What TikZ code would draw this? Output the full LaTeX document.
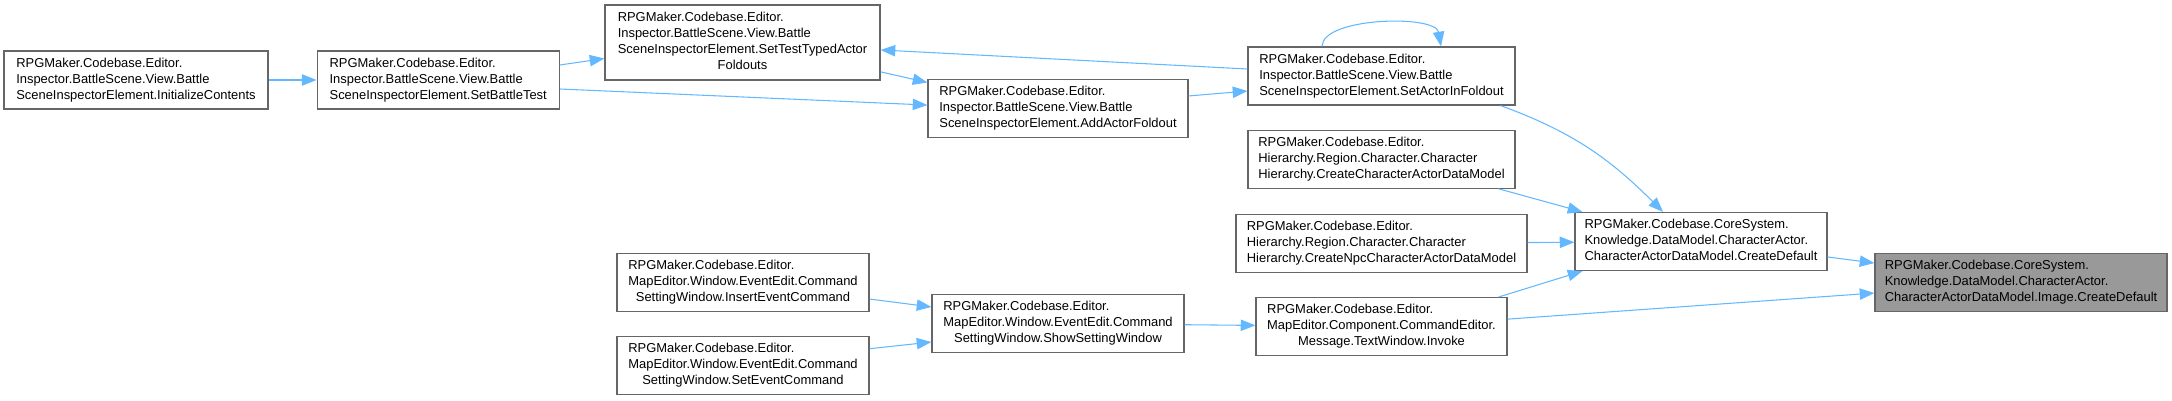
\documentclass[tikz,border=0pt]{standalone}
\usepackage{fontspec}
\setmainfont{Liberation Sans}
\usepackage{tikz}
\usetikzlibrary{positioning,arrows.meta}

\definecolor{edgeblue}{HTML}{63B8FF}
\definecolor{boxgray}{HTML}{666666}
\definecolor{markgray}{HTML}{999999}

\newcommand{\fnlines}[1]{\begin{tabular}{@{}l@{}}#1\end{tabular}}
\newcommand{\lastc}[1]{\multicolumn{1}{@{}c@{}}{#1}}

\begin{document}
\begin{tikzpicture}[x=0.75pt, y=0.75pt,
    fn/.style={draw=boxgray, line width=0.9pt, fill=white, inner sep=3pt,
        minimum height=43.5pt, font=\fontsize{9.7pt}{12pt}\selectfont},
    calls/.style={draw=edgeblue, line width=0.8pt, -{Triangle[length=11pt,width=8.5pt]}}]

    \useasboundingbox (0,0) rectangle (2172,-400);

    \node[fn, minimum width=198pt] (init) at (136,-80) {\fnlines{RPGMaker.Codebase.Editor.\\Inspector.BattleScene.View.Battle\\SceneInspectorElement.InitializeContents}};
    \node[fn, minimum width=181.5pt, right=36pt of init] (setbattle) {\fnlines{RPGMaker.Codebase.Editor.\\Inspector.BattleScene.View.Battle\\SceneInspectorElement.SetBattleTest}};
    \node[fn, minimum width=206.25pt, minimum height=56.25pt] (typed) at (742.5,-42.5) {\fnlines{RPGMaker.Codebase.Editor.\\Inspector.BattleScene.View.Battle\\SceneInspectorElement.SetTestTypedActor\\\lastc{Foldouts}}};
    \node[fn, minimum width=195pt] (addfold) at (1058,-108.5) {\fnlines{RPGMaker.Codebase.Editor.\\Inspector.BattleScene.View.Battle\\SceneInspectorElement.AddActorFoldout}};
    \node[fn, minimum width=200.25pt] (infold) at (1381.5,-76) {\fnlines{RPGMaker.Codebase.Editor.\\Inspector.BattleScene.View.Battle\\SceneInspectorElement.SetActorInFoldout}};
    \node[fn, minimum width=200.25pt, below=18pt of infold] (charhier) {\fnlines{RPGMaker.Codebase.Editor.\\Hierarchy.Region.Character.Character\\Hierarchy.CreateCharacterActorDataModel}};
    \node[fn, minimum width=218.25pt, below=18.75pt of charhier] (npchier) {\fnlines{RPGMaker.Codebase.Editor.\\Hierarchy.Region.Character.Character\\Hierarchy.CreateNpcCharacterActorDataModel}};
    \node[fn, minimum width=188.25pt, below=18pt of npchier] (invoke) {\fnlines{RPGMaker.Codebase.Editor.\\MapEditor.Component.CommandEditor.\\\lastc{Message.TextWindow.Invoke}}};
    \node[fn, minimum width=189pt] (insert) at (743,-282.5) {\fnlines{RPGMaker.Codebase.Editor.\\MapEditor.Window.EventEdit.Command\\\lastc{SettingWindow.InsertEventCommand}}};
    \node[fn, minimum width=189pt, below=18pt of insert] (setevent) {\fnlines{RPGMaker.Codebase.Editor.\\MapEditor.Window.EventEdit.Command\\\lastc{SettingWindow.SetEventCommand}}};
    \node[fn, minimum width=189pt] (show) at (1058,-323.5) {\fnlines{RPGMaker.Codebase.Editor.\\MapEditor.Window.EventEdit.Command\\\lastc{SettingWindow.ShowSettingWindow}}};
    \node[fn, minimum width=189pt] (create) at (1701,-241.5) {\fnlines{RPGMaker.Codebase.CoreSystem.\\Knowledge.DataModel.CharacterActor.\\CharacterActorDataModel.CreateDefault}};
    \node[fn, minimum width=219pt, fill=markgray] (image) at (2021,-282.5) {\fnlines{RPGMaker.Codebase.CoreSystem.\\Knowledge.DataModel.CharacterActor.\\CharacterActorDataModel.Image.CreateDefault}};

    % chiamate
    \draw[calls] (init) -- (setbattle);
    \draw[calls] ([yshift=11.25pt]setbattle.east) -- ([yshift=-12pt]typed.west);
    \draw[calls] ([yshift=-6.75pt]setbattle.east) -- ([yshift=2.6pt]addfold.west);
    \draw[calls] ([yshift=-22pt]typed.east) -- ([yshift=19.5pt]addfold.west);
    \draw[calls] ([yshift=9.4pt]addfold.east) -- ([yshift=-11.25pt]infold.west);
    \draw[calls] ([yshift=5.25pt]infold.west) -- ([yshift=-5.6pt]typed.east);
    \draw[calls] ([xshift=-11.25pt]infold.south east) to[out=-20,in=135] ([xshift=-28.5pt]create.north);
    \draw[calls] ([xshift=-12.75pt]charhier.south east) -- ([xshift=6pt]create.north west);
    \draw[calls] (npchier) -- (create);
    \draw[calls] ([xshift=-6.75pt]invoke.north east) -- ([xshift=6pt]create.south west);
    \draw[calls] ([yshift=-11.6pt]create.east) -- ([yshift=14.6pt]image.west);
    \draw[calls] ([yshift=5.6pt]invoke.east) -- ([yshift=-7.9pt]image.west);
    \draw[calls] ([yshift=-12.4pt]insert.east) -- ([yshift=12.4pt]show.west);
    \draw[calls] ([yshift=12.75pt]setevent.east) -- ([yshift=-13.9pt]show.west);
    \draw[calls] (show) -- (invoke);

    % anello su se stesso
    \draw[calls] ([xshift=-44.6pt]infold.north) .. controls +(0,22pt) and +(-4pt,24pt) .. ([xshift=44.6pt]infold.north);

\end{tikzpicture}
\end{document}
